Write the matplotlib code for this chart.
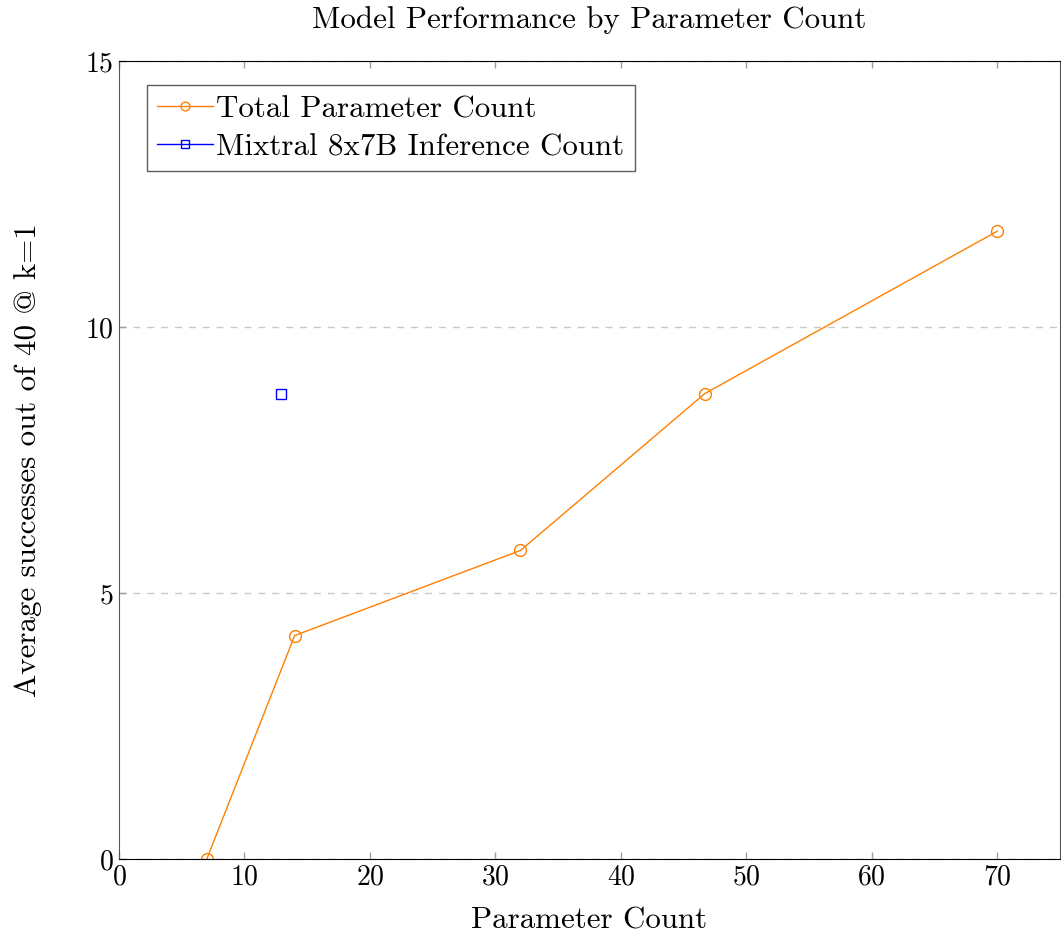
import matplotlib
matplotlib.use("Agg")
import matplotlib.pyplot as plt

# data
total_params = [7, 14, 32, 46.7, 70]
total_success = [0.0, 4.2, 5.8, 8.75, 11.8]
mixtral_params = [12.9]
mixtral_success = [8.75]

plt.rcParams['font.family'] = 'cmr10'
plt.rcParams['mathtext.fontset'] = 'cm'
plt.rcParams['axes.formatter.use_mathtext'] = True

fig = plt.figure(figsize=(10.61, 9.36), dpi=100)
ax = fig.add_axes([119 / 1061, 1 - 859 / 936, 941 / 1061, 798 / 936])

orange = (1.0, 0.5, 0.0)
ax.plot(total_params, total_success, color=orange, marker='o', markersize=8.5,
        markerfacecolor='none', markeredgewidth=1.0, linewidth=1.0,
        label='Total Parameter Count')
ax.plot(mixtral_params, mixtral_success, color='blue', marker='s', markersize=7.5,
        markerfacecolor='none', markeredgewidth=1.0, linewidth=1.0,
        label='Mixtral 8x7B Inference Count')

ax.set_xlim(0, 75)
ax.set_ylim(0, 15)
ax.set_xticks([0, 10, 20, 30, 40, 50, 60, 70])
ax.set_yticks([0, 5, 10, 15])

ax.yaxis.grid(True, linestyle=(0, (5, 5)), color='#c8c8c8', linewidth=1.0)
ax.set_axisbelow(True)

ax.tick_params(direction='in', length=5, width=1, color='#a0a0a0',
               labelsize=20, top=True, right=False, pad=4)
for side in ['top', 'bottom']:
    ax.spines[side].set_color('black')
for side in ['left', 'right']:
    ax.spines[side].set_color('#555555')

ax.set_title('Model Performance by Parameter Count', fontsize=22.3, pad=24)
ax.set_xlabel('Parameter Count', fontsize=22.3, labelpad=11)
ax.set_ylabel('Average successes out of 40 @ k=1', fontsize=22.3, labelpad=31)

leg = ax.legend(loc='upper left', bbox_to_anchor=(0.03, 0.97), fontsize=22.3,
                frameon=True, fancybox=False, edgecolor='#333333',
                handlelength=1.8, handletextpad=0.1, borderpad=0.33,
                labelspacing=0.33, borderaxespad=0, markerscale=0.75)
leg.get_frame().set_linewidth(1.0)

fig.savefig('out.png', dpi=100)
